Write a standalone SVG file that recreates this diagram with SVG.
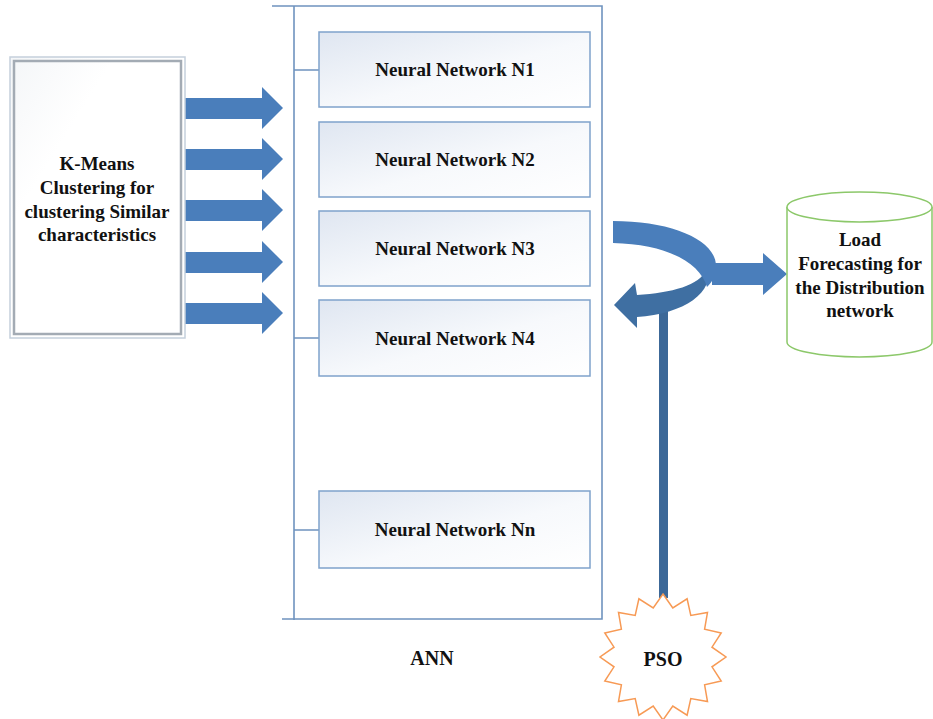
<svg xmlns="http://www.w3.org/2000/svg" width="933" height="719" viewBox="0 0 933 719">
<defs>
<linearGradient id="nodeGrad" x1="0" y1="0" x2="1" y2="1">
<stop offset="0" stop-color="#dfe6f1"/>
<stop offset="0.55" stop-color="#f7f9fc"/>
<stop offset="1" stop-color="#ffffff"/>
</linearGradient>
<linearGradient id="boxGrad" x1="0" y1="0" x2="1" y2="1">
<stop offset="0" stop-color="#f4f6f8"/>
<stop offset="0.3" stop-color="#ffffff"/>
<stop offset="1" stop-color="#ffffff"/>
</linearGradient>
</defs>
<style>
.node rect{fill:url(#nodeGrad);stroke:#7fa2cb;stroke-width:1.5}
.lbl{font-family:"Liberation Serif","Times New Roman",serif;font-weight:bold;fill:#111;text-anchor:middle}
.frame{stroke:#6f93bf;stroke-width:1.6;fill:none}
.arrow{fill:#4a7ebb}
</style>
<rect width="933" height="719" fill="#ffffff"/>

<g id="ann">
<path class="frame" d="M272,6 H602 V619 H282 M294,6 V620"/>
<text class="lbl" x="432" y="665" font-size="20">ANN</text>
</g>

<g id="connectors">
<path class="frame" d="M294,70 H319 M294,338 H319 M294,530 H319"/>
<path class="arrow" d="M185,98 H262 V87 L283,108 L262,129 V119 H185 Z"/>
<path class="arrow" d="M185,149 H262 V138 L283,159 L262,180 V170 H185 Z"/>
<path class="arrow" d="M185,200 H262 V189 L283,210 L262,231 V221 H185 Z"/>
<path class="arrow" d="M185,252 H262 V241 L283,262 L262,283 V273 H185 Z"/>
<path class="arrow" d="M185,303 H262 V292 L283,313 L262,334 V324 H185 Z"/>
<rect x="659" y="300" width="9" height="298" fill="#3c6898"/>
<path fill="#3f6fa2" d="M707,266 C 716,292 684,314 637,317 L637,328 L614,305 L635,283 L637,295 C 672,293 700,285 706,270 Z"/>
<path fill="#4a7ebb" d="M613,221 C 672,221 716,240 716,266 C 716,276 713,281 707,287 C 700,262 665,244 613,243 Z"/>
<path class="arrow" d="M712,263 H763 V253 L787,274 L763,295 V285 H712 Z"/>
</g>

<g id="kmeans">
<rect x="10" y="57" width="175" height="281" fill="url(#boxGrad)" stroke="#c5d0dc" stroke-width="1.5"/>
<rect x="14" y="61" width="167" height="273" fill="none" stroke="#a3abb4" stroke-width="2.5"/>
<text class="lbl" font-size="19"><tspan x="97" y="170">K-Means</tspan><tspan x="97" y="194">Clustering for</tspan><tspan x="97" y="218">clustering Similar</tspan><tspan x="97" y="241">characteristics</tspan></text>
</g>

<g id="n1" class="node"><rect x="319" y="32" width="271" height="75"/><text class="lbl" x="455" y="76" font-size="19">Neural Network N1</text></g>
<g id="n2" class="node"><rect x="319" y="122" width="271" height="75"/><text class="lbl" x="455" y="166" font-size="19">Neural Network N2</text></g>
<g id="n3" class="node"><rect x="319" y="211" width="271" height="75"/><text class="lbl" x="455" y="255" font-size="19">Neural Network N3</text></g>
<g id="n4" class="node"><rect x="319" y="300" width="271" height="76"/><text class="lbl" x="455" y="345" font-size="19">Neural Network N4</text></g>
<g id="nn" class="node"><rect x="319" y="491" width="271" height="77"/><text class="lbl" x="455" y="536" font-size="19">Neural Network Nn</text></g>

<g id="load">
<path d="M787,207 V342 A72.5,15 0 0 0 932,342 V207" fill="#ffffff" stroke="#8cc86a" stroke-width="1.5"/>
<ellipse cx="859.5" cy="207" rx="72.5" ry="15" fill="#ffffff" stroke="#8cc86a" stroke-width="1.5"/>
<text class="lbl" font-size="19"><tspan x="860" y="246">Load</tspan><tspan x="860" y="270">Forecasting for</tspan><tspan x="860" y="294">the Distribution</tspan><tspan x="860" y="317">network</tspan></text>
</g>

<g id="pso">
<path fill="#ffffff" stroke="#f79a55" stroke-width="1.5" d="M663,594 L672.8,608 L687.1,598.8 L690.8,615.4 L707.5,612.5 L704.6,629.2 L721.2,632.9 L712,647.2 L726,657 L712,666.8 L721.2,681.1 L704.6,684.8 L707.5,701.5 L690.8,698.6 L687.1,715.2 L672.8,706 L663,720 L653.2,706 L638.9,715.2 L635.2,698.6 L618.5,701.5 L621.4,684.8 L604.8,681.1 L614,666.8 L600,657 L614,647.2 L604.8,632.9 L621.4,629.2 L618.5,612.5 L635.2,615.4 L638.9,598.8 L653.2,608 Z"/>
<text class="lbl" x="663" y="666" font-size="20">PSO</text>
</g>
</svg>
